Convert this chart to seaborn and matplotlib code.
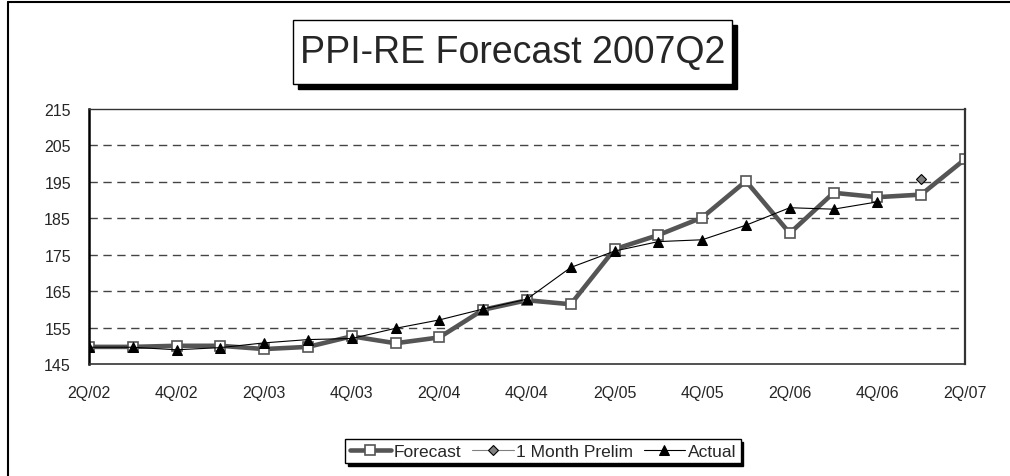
import matplotlib
matplotlib.use("Agg")
import matplotlib.pyplot as plt
import seaborn as sns
from matplotlib.patches import Rectangle
from matplotlib.lines import Line2D

# quarters 2Q/02 .. 2Q/07
quarters = ["2Q/02", "3Q/02", "4Q/02", "1Q/03", "2Q/03", "3Q/03", "4Q/03",
            "1Q/04", "2Q/04", "3Q/04", "4Q/04", "1Q/05", "2Q/05", "3Q/05",
            "4Q/05", "1Q/06", "2Q/06", "3Q/06", "4Q/06", "1Q/07", "2Q/07"]

forecast = [149.7, 149.7, 150.0, 150.0, 149.1, 149.7, 152.6, 150.7, 152.3, 159.9,
            162.5, 161.4, 176.5, 180.4, 185.2, 195.2, 180.9, 192.0, 190.8, 191.5,
            201.2]

actual = [149.6, 149.6, 148.9, 149.5, 150.8, 151.7, 152.0, 154.8, 157.1, 160.1,
          162.8, 171.5, 176.0, 178.6, 179.1, 183.1, 187.9, 187.5, 189.5]

prelim_q = ["1Q/07"]
prelim = [195.7]

y_ticks = [145, 155, 165, 175, 185, 195, 205, 215]

sns.set_style("white")
plt.rcParams["font.family"] = ["Liberation Sans", "DejaVu Sans"]

fig = plt.figure(figsize=(10.1, 4.77), dpi=100)
ax = fig.add_axes([0.0881, 0.2348, 0.8673, 0.5346])

xpos = list(range(len(quarters)))
sns.lineplot(x=xpos, y=forecast, ax=ax, color="#555555", lw=3.3,
             marker="s", markersize=6.5, markerfacecolor="white",
             markeredgecolor="#555555", markeredgewidth=1.2, label="Forecast")
sns.lineplot(x=[quarters.index(q) for q in prelim_q], y=prelim, ax=ax,
             color="#808080", lw=0.8, marker="D", markersize=5,
             markerfacecolor="#808080", markeredgecolor="black",
             markeredgewidth=0.8, label="1 Month Prelim")
sns.lineplot(x=xpos[:len(actual)], y=actual, ax=ax, color="black", lw=0.8,
             marker="^", markersize=7.5, markerfacecolor="black",
             markeredgecolor="black", label="Actual")

ax.set_xlim(0, len(quarters) - 1)
ax.set_ylim(145, 215)
ax.set_yticks(y_ticks)
ax.set_xticks(xpos)
ax.set_xticklabels([q if i % 2 == 0 else "" for i, q in enumerate(quarters)])
ax.tick_params(axis="y", length=0, pad=13, labelsize=11.5)
ax.tick_params(axis="x", length=4, width=1, color="#333333", direction="out",
               pad=11, labelsize=11.5)
ax.set_xlabel("")
ax.set_ylabel("")

for v in y_ticks[1:-1]:
    ax.axhline(v, color="#444444", lw=1, ls=(0, (6, 4)), zorder=0)

ax.spines["left"].set_linewidth(1.8)
ax.spines["left"].set_color("black")
ax.spines["bottom"].set_linewidth(1.2)
ax.spines["bottom"].set_color("#333333")
ax.spines["right"].set_linewidth(1.6)
ax.spines["right"].set_color("#333333")
ax.spines["top"].set_linewidth(1.0)
ax.spines["top"].set_color("#333333")

leg = ax.legend(loc="center", bbox_to_anchor=(0.5376, 0.052),
                bbox_transform=fig.transFigure, ncol=3, frameon=True,
                fancybox=False, edgecolor="black", fontsize=12.5,
                handlelength=2.4, handletextpad=0.15, columnspacing=0.6,
                borderpad=0.25, borderaxespad=0,
                shadow={"facecolor": "black", "edgecolor": "black", "alpha": 1})
leg.get_frame().set_linewidth(1.0)

# outer chart border (top and left visible)
fig.add_artist(Line2D([8 / 1010, 1], [1 - 3 / 477, 1 - 3 / 477], color="black", lw=1.5))
fig.add_artist(Line2D([8 / 1010, 8 / 1010], [0, 1 - 3 / 477], color="black", lw=1.5))

# title box with shadow
bx, by, bw, bh = 293 / 1010, 1 - 85 / 477, 439 / 1010, 64 / 477
fig.add_artist(Rectangle((bx + 5 / 1010, by - 5 / 477), bw, bh, transform=fig.transFigure,
                         facecolor="black", edgecolor="black", lw=1))
fig.add_artist(Rectangle((bx, by), bw, bh, transform=fig.transFigure,
                         facecolor="white", edgecolor="black", lw=1))
fig.text(bx + bw / 2, by + bh / 2, "PPI-RE Forecast 2007Q2", ha="center", va="center",
         fontsize=27)

fig.savefig("out.png", dpi=100)
